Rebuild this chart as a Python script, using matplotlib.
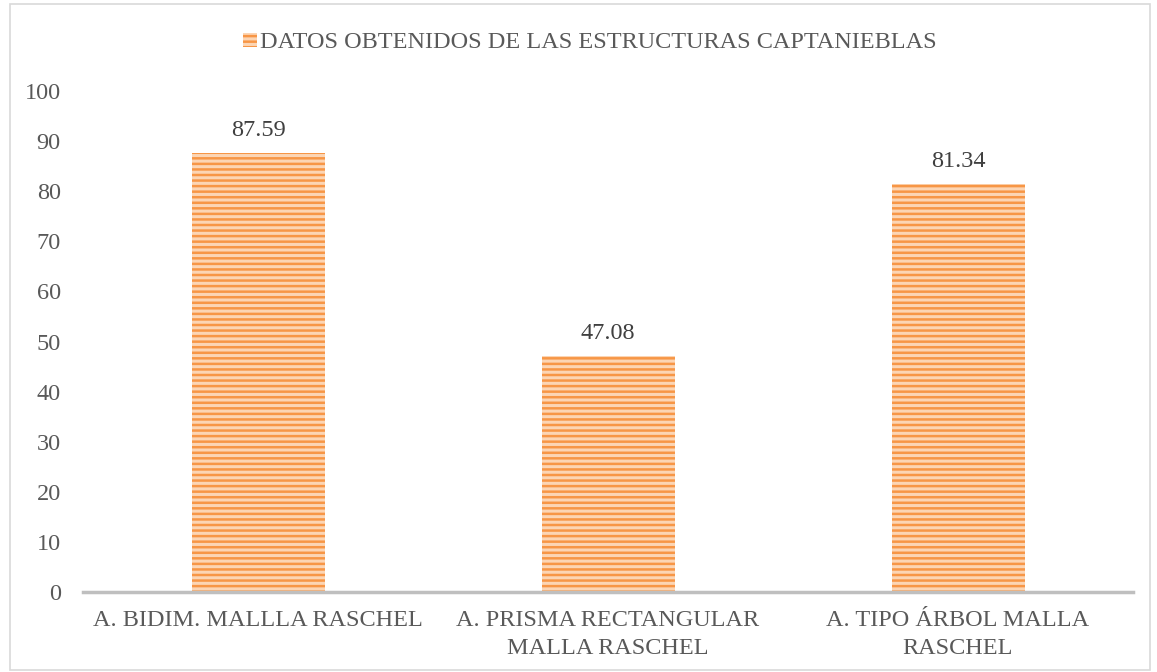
import matplotlib.pyplot as plt
import matplotlib.patches as mpatches

categorias = ["A. BIDIM. MALLLA RASCHEL", "A. PRISMA RECTANGULAR\nMALLA RASCHEL", "A. TIPO ÁRBOL MALLA\nRASCHEL"]
valores = [87.59, 47.08, 81.34]
serie = "DATOS OBTENIDOS DE LAS ESTRUCTURAS CAPTANIEBLAS"

plt.rcParams['font.family'] = ['Liberation Serif', 'DejaVu Serif']
plt.rcParams['hatch.linewidth'] = 1.8
plt.rcParams['hatch.color'] = '#F79646'

W, H = 1157, 672
fig = plt.figure(figsize=(W / 100, H / 100), dpi=100)
ax = fig.add_axes([83 / W, 1 - 592 / H, 1050 / W, 501 / H])

fs = 17.5
x = range(len(categorias))
bars = ax.bar(x, valores, width=0.38, color='#FCD5B4', edgecolor='#F79646',
              hatch='---', linewidth=0, label=serie)
for b, v in zip(bars, valores):
    ax.text(b.get_x() + b.get_width() / 2, v + 2.4, f"{v:.2f}", ha='center', va='bottom',
            fontsize=fs, color='#404040')

ax.set_xlim(-0.5, 2.5)
ax.set_ylim(0, 100)
ax.set_yticks(range(0, 101, 10))
ax.set_xticks(list(x))
ax.set_xticklabels(categorias, fontsize=fs, color='#595959', linespacing=1.45)
ax.tick_params(axis='y', length=0, labelsize=fs, labelcolor='#595959', pad=16)
ax.tick_params(axis='x', length=0, pad=13)
for s in ['top', 'right', 'left']:
    ax.spines[s].set_visible(False)
ax.spines['bottom'].set_color('#BFBFBF')
ax.spines['bottom'].set_linewidth(2.5)

leg = fig.legend(handles=[bars], labels=[serie], loc='center', bbox_to_anchor=(590 / W, 1 - 43 / H),
                 frameon=False, fontsize=fs, handlelength=0.55, handleheight=0.55, handletextpad=0.15)
for t in leg.get_texts():
    t.set_color('#595959')

fig.patches.append(mpatches.Rectangle((10 / W, 2 / H), 1140 / W, 666 / H, transform=fig.transFigure,
                                      fill=False, edgecolor='#D9D9D9', linewidth=1.2))

fig.savefig('out.png', dpi=100)
